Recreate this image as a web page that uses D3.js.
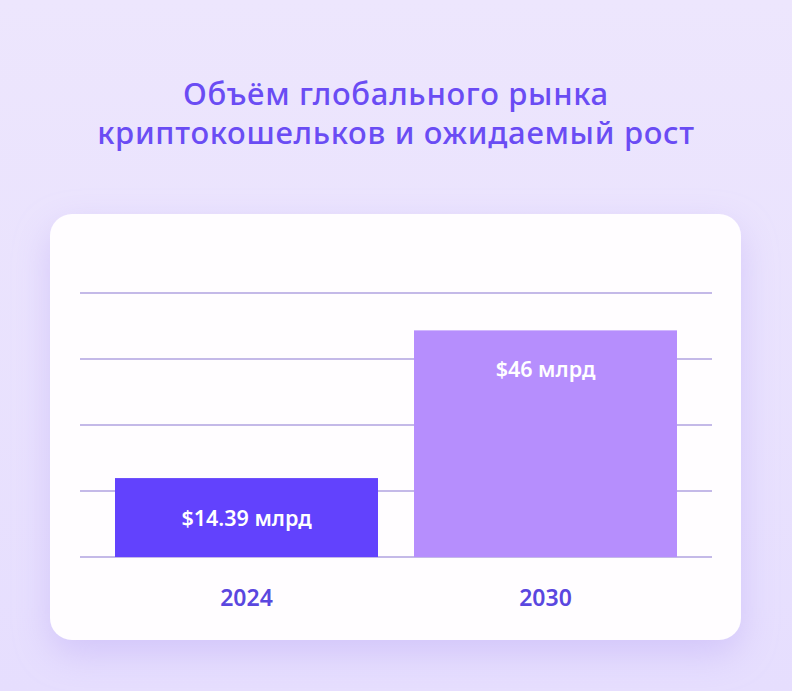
<!DOCTYPE html>
<html><head><meta charset="utf-8">
<script src="https://cdn.jsdelivr.net/npm/d3@7"></script>
<style>
html,body{margin:0;padding:0;}
body{width:792px;height:691px;overflow:hidden;background:#ece5fd;}
</style></head>
<body>
<script>
const titleLines = ["Объём глобального рынка", "криптокошельков и ожидаемый рост"];
const years = ["2024", "2030"];
const values = [14.39, 46];
const valueLabels = ["$14.39 млрд", "$46 млрд"];
const barColors = ["#6242fd", "#b68efd"];
const yDomain = [-2.5, 54];
const gridCount = 5;

const W = 792, H = 691;
const font = "'Noto Sans', sans-serif";
const svg = d3.select("body").append("svg").attr("width", W).attr("height", H);
const defs = svg.append("defs");
const bg = defs.append("linearGradient").attr("id","bg").attr("x1",0).attr("y1",0).attr("x2",0).attr("y2",1);
bg.append("stop").attr("offset","0%").attr("stop-color","#ede6fd");
bg.append("stop").attr("offset","100%").attr("stop-color","#e6defe");
svg.append("rect").attr("width",W).attr("height",H).attr("fill","url(#bg)");

const f = defs.append("filter").attr("id","sh").attr("x","-20%").attr("y","-20%").attr("width","140%").attr("height","150%");
f.append("feDropShadow").attr("dx",0).attr("dy",14).attr("stdDeviation",18).attr("flood-color","#b9a6f5").attr("flood-opacity",0.45);

svg.append("g").selectAll("text").data(titleLines).join("text")
  .attr("x",396).attr("y",(d,i)=>105+i*39).attr("text-anchor","middle")
  .attr("font-family",font).attr("font-weight",500).attr("font-size",31)
  .attr("letter-spacing",0.7).attr("fill","#6a4cf4").text(d=>d);

svg.append("rect").attr("x",50).attr("y",214).attr("width",691).attr("height",426)
  .attr("rx",22).attr("fill","#fffdff").attr("filter","url(#sh)");

const x = d3.scaleBand().domain(years).range([115,677]).paddingInner(0.1204).paddingOuter(0);
const y = d3.scaleLinear().domain(yDomain).range([557,293]);
const gridVals = d3.range(gridCount).map(i => yDomain[0] + i*(yDomain[1]-yDomain[0])/(gridCount-1));

svg.append("g").selectAll("line").data(gridVals).join("line")
  .attr("x1",80).attr("x2",712).attr("y1",d=>y(d)).attr("y2",d=>y(d))
  .attr("stroke","#b0a2e0").attr("stroke-width",1.6);

svg.append("g").selectAll("rect").data(values).join("rect")
  .attr("x",(d,i)=>x(years[i])).attr("width",x.bandwidth())
  .attr("y",d=>y(d)).attr("height",d=>y(yDomain[0])-y(d))
  .attr("fill",(d,i)=>barColors[i]);

svg.append("g").selectAll("text").data(values).join("text")
  .attr("x",(d,i)=>x(years[i])+x.bandwidth()/2)
  .attr("y",(d,i)=> i===0 ? (y(d)+y(yDomain[0]))/2+8 : y(d)+47)
  .attr("text-anchor","middle").attr("font-family",font).attr("font-weight",600)
  .attr("font-size",21.5).attr("fill","#ffffff").text((d,i)=>valueLabels[i]);

const xAxis = svg.append("g").attr("transform","translate(0,557)")
  .call(d3.axisBottom(x).tickSize(0).tickPadding(33));
xAxis.select(".domain").remove();
xAxis.selectAll("text").attr("font-family",font).attr("font-weight",600)
  .attr("font-size",23).attr("fill","#5a47df");
</script>
</body></html>
